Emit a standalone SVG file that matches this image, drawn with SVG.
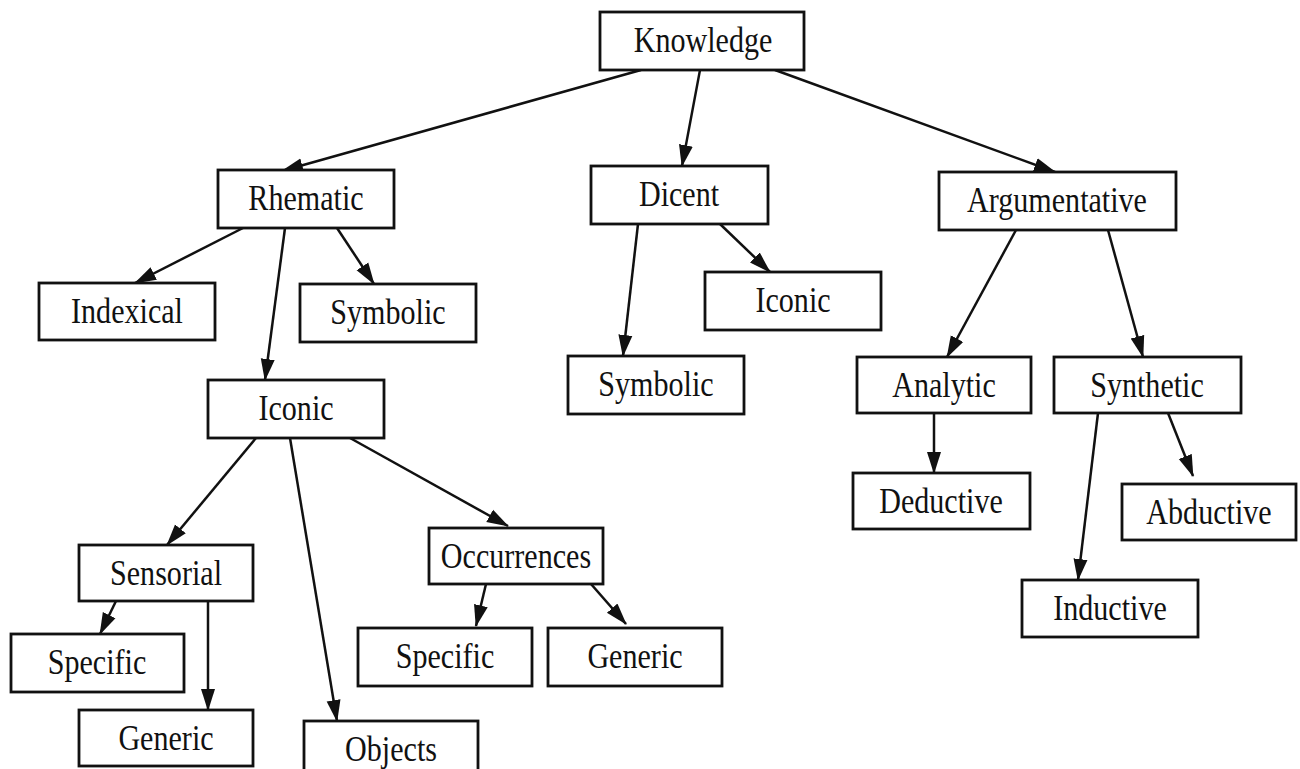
<svg xmlns="http://www.w3.org/2000/svg" width="1300" height="769" viewBox="0 0 1300 769">
<style>
.box{fill:#fff;stroke:#111;stroke-width:2.8}
.lbl{font-family:"Liberation Serif","Times New Roman",serif;font-size:35px;fill:#111;text-anchor:middle}
.edge{stroke:#111;stroke-width:2.5;fill:none;marker-end:url(#ah)}
</style>
<defs>
<marker id="ah" markerUnits="userSpaceOnUse" markerWidth="22" markerHeight="16" refX="21" refY="8" orient="auto">
<path d="M0,1 L22,8 L0,15 z" fill="#111"/>
</marker>
</defs>
<rect width="1300" height="769" fill="#fff"/>
<g id="connectors">
<line class="edge" x1="641" y1="70" x2="282" y2="171"/>
<line class="edge" x1="700" y1="70" x2="682" y2="166"/>
<line class="edge" x1="775" y1="70" x2="1055" y2="172"/>
<line class="edge" x1="243" y1="228" x2="135" y2="283"/>
<line class="edge" x1="285" y1="228" x2="265" y2="380"/>
<line class="edge" x1="337" y1="228" x2="374" y2="284"/>
<line class="edge" x1="638" y1="224" x2="623" y2="356"/>
<line class="edge" x1="720" y1="224" x2="770" y2="272"/>
<line class="edge" x1="1016" y1="230" x2="947" y2="357"/>
<line class="edge" x1="1108" y1="230" x2="1143" y2="357"/>
<line class="edge" x1="934" y1="413" x2="934" y2="473"/>
<line class="edge" x1="1168" y1="413" x2="1193" y2="476"/>
<line class="edge" x1="1098" y1="413" x2="1078" y2="580"/>
<line class="edge" x1="256" y1="438" x2="167" y2="545"/>
<line class="edge" x1="290" y1="438" x2="337" y2="721"/>
<line class="edge" x1="350" y1="438" x2="508" y2="526"/>
<line class="edge" x1="116" y1="601" x2="100" y2="634"/>
<line class="edge" x1="208" y1="601" x2="208" y2="710"/>
<line class="edge" x1="486" y1="584" x2="476" y2="626"/>
<line class="edge" x1="591" y1="584" x2="626" y2="624"/>
</g>
<g id="knowledge"><rect class="box" x="600" y="12" width="204" height="58"/><text class="lbl" transform="translate(703,52) scale(0.86,1)">Knowledge</text></g>
<g id="rhematic"><rect class="box" x="218" y="170" width="176" height="58"/><text class="lbl" transform="translate(306,210) scale(0.86,1)">Rhematic</text></g>
<g id="dicent"><rect class="box" x="591" y="166" width="177" height="58"/><text class="lbl" transform="translate(679,206) scale(0.86,1)">Dicent</text></g>
<g id="argumentative"><rect class="box" x="939" y="172" width="237" height="58"/><text class="lbl" transform="translate(1057,212) scale(0.86,1)">Argumentative</text></g>
<g id="indexical"><rect class="box" x="39" y="283" width="176" height="57"/><text class="lbl" transform="translate(127,323) scale(0.86,1)">Indexical</text></g>
<g id="symbolic-r"><rect class="box" x="300" y="284" width="176" height="58"/><text class="lbl" transform="translate(388,324) scale(0.86,1)">Symbolic</text></g>
<g id="iconic-d"><rect class="box" x="705" y="272" width="176" height="58"/><text class="lbl" transform="translate(793,312) scale(0.86,1)">Iconic</text></g>
<g id="symbolic-d"><rect class="box" x="568" y="356" width="176" height="58"/><text class="lbl" transform="translate(656,396) scale(0.86,1)">Symbolic</text></g>
<g id="iconic-r"><rect class="box" x="208" y="380" width="176" height="58"/><text class="lbl" transform="translate(296,420) scale(0.86,1)">Iconic</text></g>
<g id="analytic"><rect class="box" x="857" y="357" width="174" height="56"/><text class="lbl" transform="translate(944,397) scale(0.86,1)">Analytic</text></g>
<g id="synthetic"><rect class="box" x="1054" y="357" width="187" height="56"/><text class="lbl" transform="translate(1147,397) scale(0.86,1)">Synthetic</text></g>
<g id="deductive"><rect class="box" x="853" y="473" width="177" height="56"/><text class="lbl" transform="translate(941,513) scale(0.86,1)">Deductive</text></g>
<g id="abductive"><rect class="box" x="1122" y="484" width="174" height="56"/><text class="lbl" transform="translate(1209,524) scale(0.86,1)">Abductive</text></g>
<g id="inductive"><rect class="box" x="1022" y="580" width="176" height="57"/><text class="lbl" transform="translate(1110,620) scale(0.86,1)">Inductive</text></g>
<g id="sensorial"><rect class="box" x="79" y="545" width="174" height="56"/><text class="lbl" transform="translate(166,585) scale(0.86,1)">Sensorial</text></g>
<g id="occurrences"><rect class="box" x="429" y="528" width="174" height="56"/><text class="lbl" transform="translate(516,568) scale(0.86,1)">Occurrences</text></g>
<g id="specific-s"><rect class="box" x="11" y="634" width="173" height="58"/><text class="lbl" transform="translate(97,674) scale(0.86,1)">Specific</text></g>
<g id="generic-s"><rect class="box" x="79" y="710" width="174" height="56"/><text class="lbl" transform="translate(166,750) scale(0.86,1)">Generic</text></g>
<g id="objects"><rect class="box" x="304" y="721" width="174" height="56"/><text class="lbl" transform="translate(391,761) scale(0.86,1)">Objects</text></g>
<g id="specific-o"><rect class="box" x="358" y="628" width="174" height="58"/><text class="lbl" transform="translate(445,668) scale(0.86,1)">Specific</text></g>
<g id="generic-o"><rect class="box" x="548" y="628" width="174" height="58"/><text class="lbl" transform="translate(635,668) scale(0.86,1)">Generic</text></g>
</svg>
